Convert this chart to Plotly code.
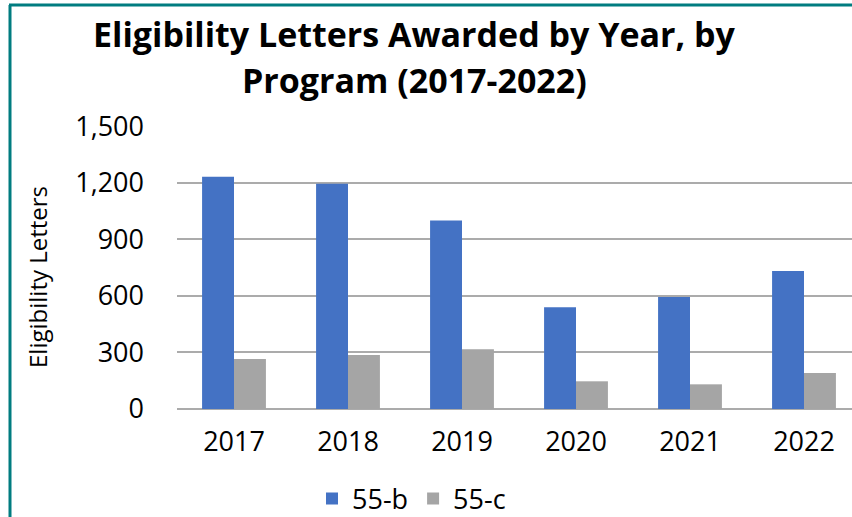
import plotly.graph_objects as go

years = ["2017", "2018", "2019", "2020", "2021", "2022"]
b55 = [1233, 1196, 1000, 540, 595, 733]
c55 = [265, 287, 317, 147, 131, 191]
y_ticks = [0, 300, 600, 900, 1200, 1500]
y_tick_text = ["0", "300", "600", "900", "1,200", "1,500"]

FONT = "Open Sans"
W, H = 852, 517
L, R, T, B = 177, 0, 126, 108
PW, PH = W - L - R, H - T - B

def px(x):
    return (x - L) / PW

def py(y):
    return (H - B - y) / PH

fig = go.Figure()
fig.add_trace(go.Bar(name="55-b", x=years, y=b55, marker=dict(color="#4472C4", line=dict(width=0))))
fig.add_trace(go.Bar(name="55-c", x=years, y=c55, marker=dict(color="#A5A5A5", line=dict(width=0))))

fig.update_layout(
    width=W, height=H,
    margin=dict(l=L, r=R, t=T, b=B, autoexpand=False),
    paper_bgcolor="white", plot_bgcolor="white",
    barmode="group", bargap=0.44, bargroupgap=0,
    font=dict(family=FONT, color="#000000"),
    showlegend=True,
    legend=dict(orientation="h", x=px(312), xanchor="left", y=py(499), yanchor="middle",
                font=dict(size=27, family=FONT), itemwidth=30, traceorder="normal"),
    xaxis=dict(type="category", range=[-0.5, -0.5 + PW / 114], showgrid=False, showline=False,
               ticks="", tickfont=dict(size=27, family=FONT), ticklabelstandoff=14, automargin=False),
    yaxis=dict(range=[0, 1502], tickvals=y_ticks, ticktext=y_tick_text, showgrid=True,
               gridcolor="#ABABAB", gridwidth=1.5, zeroline=True, zerolinecolor="#ABABAB",
               zerolinewidth=1.5, showline=False, ticks="",
               tickfont=dict(size=27, family=FONT), ticklabelstandoff=32, automargin=False),
)

fig.add_annotation(text="<b>Eligibility Letters Awarded by Year, by</b>", xref="paper", yref="paper",
                   x=px(414), y=py(34), xanchor="center", yanchor="middle", showarrow=False,
                   font=dict(size=34, family=FONT, color="#000000"))
fig.add_annotation(text="<b>Program (2017-2022)</b>", xref="paper", yref="paper",
                   x=px(414), y=py(80), xanchor="center", yanchor="middle", showarrow=False,
                   font=dict(size=34, family=FONT, color="#000000"))
fig.add_annotation(text="Eligibility Letters", xref="paper", yref="paper",
                   x=px(37), y=py(277), xanchor="center", yanchor="middle", textangle=-90,
                   showarrow=False, font=dict(size=24, family=FONT, color="#000000"))

border = "#007C80"
fig.add_shape(type="line", xref="paper", yref="paper", x0=px(10), x1=px(10), y0=py(5), y1=py(520),
              line=dict(color=border, width=3))
fig.add_shape(type="line", xref="paper", yref="paper", x0=px(9), x1=px(860), y0=py(5), y1=py(5),
              line=dict(color=border, width=3))

fig.write_html("out.html", config={"displayModeBar": False},
               post_script="document.body.style.margin='0';document.body.style.overflow='hidden';")
